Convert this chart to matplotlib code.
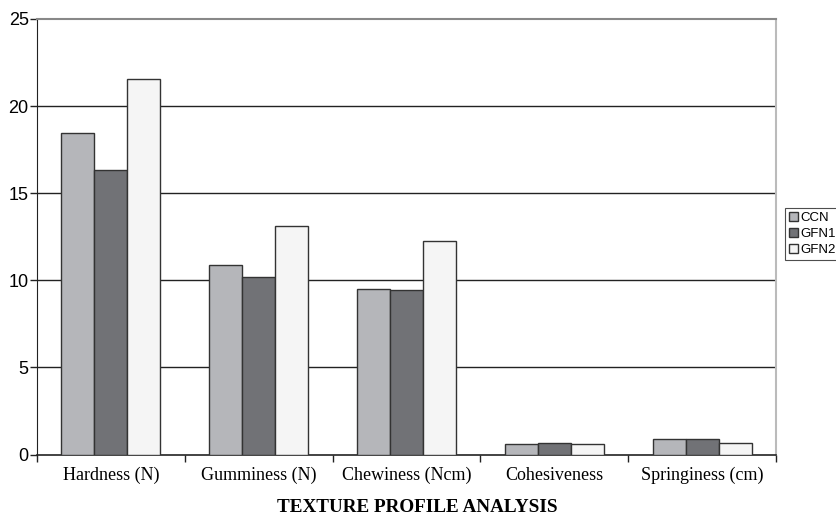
import matplotlib
matplotlib.use("Agg")
import matplotlib.pyplot as plt
import numpy as np

categories = ["Hardness (N)", "Gumminess (N)", "Chewiness (Ncm)", "Cohesiveness", "Springiness (cm)"]
series = ["CCN", "GFN1", "GFN2"]
ccn = [18.45, 10.9, 9.52, 0.58, 0.87]
gfn1 = [16.36, 10.19, 9.47, 0.64, 0.87]
gfn2 = [21.55, 13.1, 12.26, 0.58, 0.64]
yticks = [0, 5, 10, 15, 20, 25]

colors = ["#b5b6ba", "#717276", "#f5f5f5"]

fig = plt.figure(figsize=(8.37, 5.17), dpi=100)
ax = fig.add_axes([37 / 837, 1 - 454.5 / 517, (776 - 37) / 837, (454.5 - 19) / 517])

x = np.arange(len(categories))
bar_width = 0.223
for i, (name, vals) in enumerate(zip(series, [ccn, gfn1, gfn2])):
    ax.bar(x + (i - 1) * bar_width, vals, bar_width, color=colors[i],
           edgecolor="#333333", linewidth=1.0, label=name, zorder=3)

# gridlines
for y in yticks[1:-1]:
    ax.axhline(y, color="#222222", linewidth=1.0, zorder=1)

ax.set_xlim(-0.5, len(categories) - 0.5)
ax.set_ylim(0, 25)
ax.set_yticks(yticks)
ax.set_yticklabels([str(t) for t in yticks], fontsize=13, family="Liberation Sans")
ax.tick_params(axis="y", direction="out", length=5, width=1, pad=1, color="#222222")

ax.set_xticks(x)
ax.set_xticklabels(categories, fontsize=13, family="Liberation Serif")
ax.tick_params(axis="x", which="major", length=0, pad=9)
ax.set_xticks(np.arange(-0.5, len(categories), 1.0), minor=True)
ax.tick_params(axis="x", which="minor", direction="out", length=5, width=1, color="#222222")

fig.text(417 / 837, 1 - 508 / 517, "TEXTURE PROFILE ANALYSIS", fontsize=13.8,
         family="Liberation Serif", fontweight="bold", ha="center", va="center")

ax.spines["left"].set_color("#222222")
ax.spines["bottom"].set_color("#222222")
ax.spines["bottom"].set_linewidth(1.2)
ax.spines["top"].set_color("#888888")
ax.spines["top"].set_linewidth(1.5)
ax.spines["right"].set_color("#bbbbbb")
ax.spines["right"].set_linewidth(1.5)

leg = fig.legend(loc="upper left", bbox_to_anchor=(785 / 837, 1 - 208 / 517),
                 prop={"family": "Liberation Sans", "size": 9.5},
                 frameon=True, fancybox=False, edgecolor="#222222",
                 handlelength=0.7, handleheight=0.7, handletextpad=0.2,
                 borderpad=0.3, labelspacing=0.28, borderaxespad=0)
leg.get_frame().set_linewidth(0.8)

fig.savefig("out.png", dpi=100)
